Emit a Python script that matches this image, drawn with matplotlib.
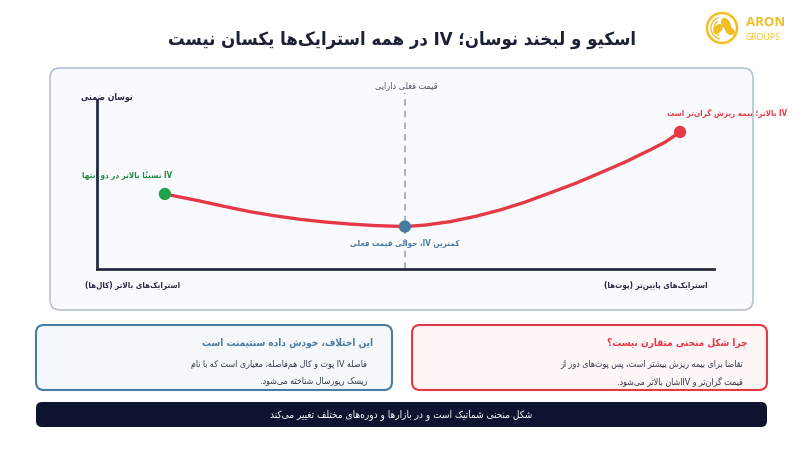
import re
import matplotlib
matplotlib.use("Agg")
import matplotlib.pyplot as plt
from matplotlib.patches import FancyBboxPatch, Circle, Ellipse, Arc

plt.rcParams['font.family'] = ['DejaVu Sans']
plt.rcParams['font.stretch'] = 'condensed'

# ---------------- data ----------------
curve_strike = [11.0, 16.7, 20.7, 24.8, 28.8, 32.9, 37.0, 41.0, 45.1, 49.9,
                53.2, 57.2, 61.3, 65.3, 69.4, 73.4, 77.5, 81.5, 85.6, 89.6, 92.1, 94.5]
curve_iv = [44.4, 40.2, 37.0, 33.9, 31.5, 29.4, 27.8, 26.6, 25.7, 25.1,
            26.0, 28.0, 31.1, 34.9, 39.6, 45.0, 50.6, 56.8, 63.3, 70.4, 75.1, 81.1]
point_strike = [11.0, 49.9, 94.5]
point_iv = [44.4, 25.1, 81.1]
point_colors = ['#1FA34A', '#457B9D', '#E63946']
spot_strike = 49.9

title_text = "اسکیو و لبخند نوسان؛ IV در همه استرایک‌ها یکسان نیست"
y_label = "نوسان ضمنی"
spot_label = "قیمت فعلی دارایی"
left_point_label = "IV نسبتاً بالاتر در دو انتها"
right_point_label = "IV بالاتر؛ بیمه ریزش گران‌تر است"
min_point_label = "کمترین IV، حوالی قیمت فعلی"
x_left_label = "استرایک‌های بالاتر (کال‌ها)"
x_right_label = "استرایک‌های پایین‌تر (پوت‌ها)"
box_left_title = "این اختلاف، خودش داده سنتیمنت است"
box_left_lines = ["فاصله IV پوت و کال هم‌فاصله، معیاری است که با نام",
                  "ریسک ریورسال شناخته می‌شود."]
box_right_title = "چرا شکل منحنی متقارن نیست؟"
box_right_lines = ["تقاضا برای بیمه ریزش بیشتر است، پس پوت‌های دور از",
                   "قیمت گران‌تر و IVاشان بالاتر می‌شود."]
footer_text = "شکل منحنی شماتیک است و در بازارها و دوره‌های مختلف تغییر می‌کند"

# ---------------- Arabic/Persian shaping ----------------
FORMS = {
    '\u0627': (0xFE8D, 0xFE8E), '\u0622': (0xFE81, 0xFE82), '\u0623': (0xFE83, 0xFE84),
    '\u0625': (0xFE87, 0xFE88), '\u0624': (0xFE85, 0xFE86), '\u0629': (0xFE93, 0xFE94),
    '\u062F': (0xFEA9, 0xFEAA), '\u0630': (0xFEAB, 0xFEAC), '\u0631': (0xFEAD, 0xFEAE),
    '\u0632': (0xFEAF, 0xFEB0), '\u0698': (0xFB8A, 0xFB8B), '\u0648': (0xFEED, 0xFEEE),
    '\u0628': (0xFE8F, 0xFE90, 0xFE91, 0xFE92), '\u067E': (0xFB56, 0xFB57, 0xFB58, 0xFB59),
    '\u062A': (0xFE95, 0xFE96, 0xFE97, 0xFE98), '\u062B': (0xFE99, 0xFE9A, 0xFE9B, 0xFE9C),
    '\u062C': (0xFE9D, 0xFE9E, 0xFE9F, 0xFEA0), '\u0686': (0xFB7A, 0xFB7B, 0xFB7C, 0xFB7D),
    '\u062D': (0xFEA1, 0xFEA2, 0xFEA3, 0xFEA4), '\u062E': (0xFEA5, 0xFEA6, 0xFEA7, 0xFEA8),
    '\u0633': (0xFEB1, 0xFEB2, 0xFEB3, 0xFEB4), '\u0634': (0xFEB5, 0xFEB6, 0xFEB7, 0xFEB8),
    '\u0635': (0xFEB9, 0xFEBA, 0xFEBB, 0xFEBC), '\u0636': (0xFEBD, 0xFEBE, 0xFEBF, 0xFEC0),
    '\u0637': (0xFEC1, 0xFEC2, 0xFEC3, 0xFEC4), '\u0638': (0xFEC5, 0xFEC6, 0xFEC7, 0xFEC8),
    '\u0639': (0xFEC9, 0xFECA, 0xFECB, 0xFECC), '\u063A': (0xFECD, 0xFECE, 0xFECF, 0xFED0),
    '\u0641': (0xFED1, 0xFED2, 0xFED3, 0xFED4), '\u0642': (0xFED5, 0xFED6, 0xFED7, 0xFED8),
    '\u06A9': (0xFB8E, 0xFB8F, 0xFB90, 0xFB91), '\u0643': (0xFED9, 0xFEDA, 0xFEDB, 0xFEDC),
    '\u06AF': (0xFB92, 0xFB93, 0xFB94, 0xFB95), '\u0644': (0xFEDD, 0xFEDE, 0xFEDF, 0xFEE0),
    '\u0645': (0xFEE1, 0xFEE2, 0xFEE3, 0xFEE4), '\u0646': (0xFEE5, 0xFEE6, 0xFEE7, 0xFEE8),
    '\u0647': (0xFEE9, 0xFEEA, 0xFEEB, 0xFEEC), '\u06CC': (0xFBFC, 0xFBFD, 0xFBFE, 0xFBFF),
    '\u064A': (0xFEF1, 0xFEF2, 0xFEF3, 0xFEF4), '\u0626': (0xFE89, 0xFE8A, 0xFE8B, 0xFE8C),
}
LAMALEF = {'\u0627': (0xFEFB, 0xFEFC), '\u0622': (0xFEF5, 0xFEF6),
           '\u0623': (0xFEF7, 0xFEF8), '\u0625': (0xFEF9, 0xFEFA)}
MIRROR = {'(': ')', ')': '(', '[': ']', ']': '['}


def is_mark(c):
    return '\u064B' <= c <= '\u0652' or c == '\u0670'


def shape(text):
    ch = list(text)
    n = len(ch)

    def prev_idx(i):
        j = i - 1
        while j >= 0 and is_mark(ch[j]):
            j -= 1
        return j

    def next_idx(i):
        j = i + 1
        while j < n and is_mark(ch[j]):
            j += 1
        return j

    out = []
    i = 0
    while i < n:
        c = ch[i]
        if c in FORMS:
            p = prev_idx(i)
            q = next_idx(i)
            pc = ch[p] if p >= 0 else None
            nc = ch[q] if q < n else None
            jp = pc is not None and pc in FORMS and len(FORMS[pc]) == 4
            if c == '\u0644' and nc in LAMALEF:
                lig = LAMALEF[nc]
                out.append(chr(lig[1] if jp else lig[0]))
                i = q + 1
                continue
            f = FORMS[c]
            jn = len(f) == 4 and nc is not None and nc in FORMS
            if jp and jn:
                g = f[3]
            elif jp:
                g = f[1]
            elif jn:
                g = f[2]
            else:
                g = f[0]
            out.append(chr(g))
        elif c == '\u200c':
            pass
        else:
            out.append(c)
        i += 1
    return ''.join(out)


def fa(text):
    lines = []
    for line in text.split('\n'):
        s = shape(line)
        clusters = []
        for c in s:
            if is_mark(c) and clusters:
                clusters[-1] += c
            else:
                clusters.append(c)
        runs = []
        for cl in clusters:
            ltr = bool(re.match(r'[A-Za-z0-9]', cl))
            if runs and runs[-1][0] == ltr:
                runs[-1][1].append(cl)
            else:
                runs.append((ltr, [cl]))
        out = []
        for ltr, cls in reversed(runs):
            if ltr:
                out.extend(cls)
            else:
                out.extend(MIRROR.get(c, c) for c in reversed(cls))
        lines.append(''.join(out))
    return '\n'.join(lines)


# ---------------- figure ----------------
W, H = 800, 450
fig = plt.figure(figsize=(8, 4.5), dpi=100, facecolor='white')
bg = fig.add_axes([0, 0, 1, 1], zorder=0)
bg.set_xlim(0, W)
bg.set_ylim(H, 0)
bg.axis('off')

DARK = '#1B2035'
NAVY = '#262B40'
BLUE = '#457B9D'
RED = '#E63946'
GREEN_T = '#1E8A3E'
GOLD = '#F2BE22'

# title
bg.text(402, 40, fa(title_text), ha='center', va='center', fontsize=13.2,
        fontweight='bold', color=DARK)

# logo
bg.add_patch(Circle((722, 28), 15, fill=False, ec=GOLD, lw=1.8))
bg.add_patch(Arc((722, 28), 22, 22, theta1=100, theta2=250, ec=GOLD, lw=1.0))
bg.add_patch(Arc((722, 28), 16, 16, theta1=110, theta2=240, ec=GOLD, lw=0.9))
bg.add_patch(Ellipse((726, 24), 7, 12, angle=-30, color=GOLD))
bg.add_patch(Ellipse((718, 29), 6, 10, angle=40, color=GOLD))
bg.add_patch(Ellipse((730, 31), 6, 9, angle=-60, color=GOLD))
bg.text(746, 22, 'ARON', ha='left', va='center', fontsize=9.5, fontweight='bold',
        color=GOLD, family=['Open Sans', 'DejaVu Sans'], fontstretch='normal')
bg.text(746, 37, 'GROUPS', ha='left', va='center', fontsize=6.3, color=GOLD,
        family=['Open Sans', 'DejaVu Sans'], fontstretch='normal')

# chart panel
bg.add_patch(FancyBboxPatch((50, 68), 703, 242, boxstyle='round,pad=0,rounding_size=10',
                            fc='#F8FAFD', ec='#B7C3D4', lw=1.2))

# chart axes
ax = fig.add_axes([97 / W, 1 - 269 / H, 617 / W, 169 / H], zorder=2)
ax.set_xlim(0, 100)
ax.set_ylim(0, 100)
ax.patch.set_alpha(0)
for s in ['top', 'right']:
    ax.spines[s].set_visible(False)
for s in ['left', 'bottom']:
    ax.spines[s].set_color(NAVY)
    ax.spines[s].set_linewidth(2)
ax.set_xticks([])
ax.set_yticks([])

ax.plot([spot_strike, spot_strike], [0, 104], ls=(0, (4, 3)), color='#9AA8BA',
        lw=1.2, clip_on=False, zorder=1)
ax.plot(curve_strike, curve_iv, color=RED, lw=2.4, solid_capstyle='round', zorder=3)
ax.scatter(point_strike, point_iv, s=78, c=point_colors, zorder=4, linewidths=0)

# chart texts
bg.text(107, 97, fa(y_label), ha='center', va='center', fontsize=6.2,
        fontweight='bold', color=NAVY)
bg.text(406, 86, fa(spot_label), ha='center', va='center', fontsize=6.5,
        color='#4A5568')
bg.text(127, 175, fa(left_point_label), ha='center', va='center', fontsize=5.8,
        fontweight='bold', color=GREEN_T)
bg.text(727, 113, fa(right_point_label), ha='center', va='center', fontsize=5.8,
        fontweight='bold', color=RED)
bg.text(405, 244, fa(min_point_label), ha='center', va='center', fontsize=5.8,
        fontweight='bold', color='#4A7BA0')
bg.text(133, 285, fa(x_left_label), ha='center', va='center', fontsize=5.8,
        fontweight='bold', color=NAVY)
bg.text(656, 285, fa(x_right_label), ha='center', va='center', fontsize=5.8,
        fontweight='bold', color=NAVY)

# info boxes
bg.add_patch(FancyBboxPatch((36, 325), 356, 65, boxstyle='round,pad=0,rounding_size=8',
                            fc='#F5F8FB', ec='#4A7BA0', lw=1.5))
bg.text(373, 343, fa(box_left_title), ha='right', va='center', fontsize=7.2,
        fontweight='bold', color='#4A7BA0')
for k, line in enumerate(box_left_lines):
    bg.text(367, 364 + 17 * k, fa(line), ha='right', va='center', fontsize=6.4,
            color='#2D3748')

bg.add_patch(FancyBboxPatch((412, 325), 355, 65, boxstyle='round,pad=0,rounding_size=8',
                            fc='#FDF5F6', ec=RED, lw=1.5))
bg.text(748, 343, fa(box_right_title), ha='right', va='center', fontsize=7.2,
        fontweight='bold', color=RED)
for k, line in enumerate(box_right_lines):
    bg.text(743, 364 + 17 * k, fa(line), ha='right', va='center', fontsize=6.4,
            color='#2D3748')

# footer
bg.add_patch(FancyBboxPatch((36, 402), 731, 25, boxstyle='round,pad=0,rounding_size=6',
                            fc='#0E1430', ec='none'))
bg.text(401, 414.5, fa(footer_text), ha='center', va='center', fontsize=7.2,
        color='white')

fig.savefig('out.png', dpi=100, facecolor='white')
